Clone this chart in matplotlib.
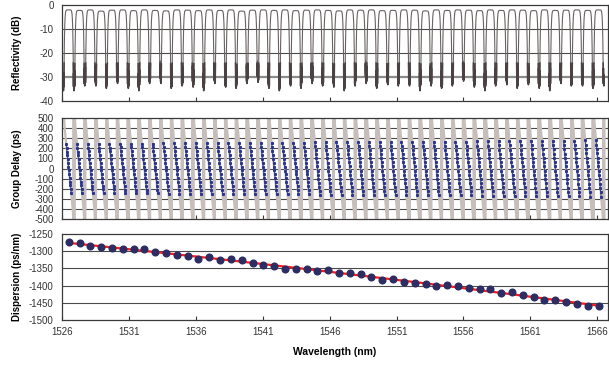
import matplotlib

matplotlib.use("Agg")
import matplotlib.pyplot as plt
import numpy as np

plt.rcParams["font.family"] = ["Liberation Sans", "DejaVu Sans"]
plt.rcParams["axes.unicode_minus"] = False

# channel grid (100 GHz spacing)
CH_START = 1526.5
CH_STEP = 0.808
N_CH = 50
wavelength = np.round(CH_START + CH_STEP * np.arange(N_CH), 3)

# measured dispersion per channel (ps/nm)
dispersion = [
    -1272, -1276, -1284, -1289, -1290, -1294, -1295, -1294, -1302, -1306,
    -1310, -1315, -1322, -1318, -1327, -1322, -1327, -1335, -1340, -1343,
    -1351, -1351, -1351, -1359, -1356, -1364, -1362, -1367, -1376, -1384,
    -1381, -1389, -1392, -1396, -1401, -1397, -1401, -1406, -1411, -1411,
    -1422, -1419, -1427, -1432, -1441, -1441, -1447, -1453, -1460, -1460,
]

# reflectivity: peak level and notch depth per channel (dB)
refl_top = [
    -2.0, -2.2, -2.0, -2.5, -2.1, -2.0, -2.3, -2.0, -2.2, -2.4,
    -2.0, -2.1, -2.3, -2.0, -2.2, -2.0, -2.5, -2.1, -2.0, -2.2,
    -2.0, -2.3, -2.1, -2.0, -2.2, -2.4, -2.0, -2.1, -2.0, -2.3,
    -2.2, -2.0, -2.1, -2.4, -2.0, -2.2, -2.0, -2.1, -2.3, -2.0,
    -2.2, -2.0, -2.1, -2.3, -2.0, -2.2, -2.1, -2.0, -2.2, -2.0,
]
refl_notch = [
    -36, -34, -33, -35, -32, -34, -36, -33, -31, -35,
    -34, -33, -36, -32, -34, -35, -33, -31, -34, -36,
    -33, -35, -32, -34, -33, -36, -34, -31, -35, -33,
    -34, -32, -36, -33, -35, -34, -31, -33, -36, -34,
    -32, -35, -33, -34, -36, -32, -34, -33, -35, -34,
]
# fixed texture of the noisy notch bottoms (dB above the notch depth)
notch_texture = [0, 6, 1, 8, 2, 5, 0, 4, 1]

xticks = [1526, 1531, 1536, 1541, 1546, 1551, 1556, 1561, 1566]
refl_ticks = [0, -10, -20, -30, -40]
gd_ticks = [500, 400, 300, 200, 100, 0, -100, -200, -300, -400, -500]
disp_ticks = [-1250, -1300, -1350, -1400, -1450, -1500]

GRID_C = "#4a4a4a"
SPINE_C = "#3a3a3a"


def reflectivity_trace():
    xs, ys = [], []
    half = CH_STEP / 2
    w = 0.28
    for i, c in enumerate(wavelength):
        x = np.linspace(-half, half, 400)
        band = refl_top[i] - 4.343 * (np.abs(x) / w) ** 8
        tx = np.linspace(0, 1, len(notch_texture))
        left = refl_notch[i - 1] if i > 0 else refl_notch[i]
        depth = np.where(x < 0, 0.5 * (left + refl_notch[i]), refl_notch[i])
        frac = (np.abs(x) - 0.345) / (half - 0.345)
        tex = np.interp(np.clip(frac, 0, 1), tx, notch_texture)
        floor = depth + tex
        xs.append(c + x)
        ys.append(np.maximum(band, floor))
    return np.concatenate(xs), np.concatenate(ys)


def group_delay_traces():
    gx, gy, blue = [], [], []
    for i, c in enumerate(wavelength):
        d = dispersion[i]
        # in-band delay from the channel dispersion
        xb = np.linspace(-0.19, 0.19, 14)
        blue.append((c + xb, d * xb))
        xg = [-0.37, -0.30, -0.19, 0.19, 0.30, 0.37]
        yg = [560, 0.30 * -d + 20, -0.19 * d, 0.19 * d, 0.30 * d - 20, -560]
        # out of band the delay swings past the scale
        g = c + CH_STEP / 2
        xz = [g - 0.03, g - 0.015, g, g + 0.015, g + 0.03]
        yz = [560, -560, 560, -560, 560]
        gx.extend([c + v for v in xg] + xz)
        gy.extend(yg + yz)
    return np.array(gx), np.array(gy), blue


fig = plt.figure(figsize=(6.09, 3.66), dpi=100)
left, width = 0.1018, 0.8966
ax1 = fig.add_axes([left, 0.724, width, 0.262])
ax2 = fig.add_axes([left, 0.4016, width, 0.276])
ax3 = fig.add_axes([left, 0.1257, width, 0.235])

for ax in (ax1, ax2, ax3):
    ax.set_xlim(1526, 1566.8)
    ax.set_xticks(xticks)
    ax.tick_params(axis="x", direction="in", length=3, width=0.8, color=SPINE_C,
                   labelsize=7, pad=5, top=False, labelcolor="#333333")
    ax.tick_params(axis="y", length=0, labelsize=7, pad=6, labelcolor="#333333")
    for s in ax.spines.values():
        s.set_color(SPINE_C)
        s.set_linewidth(0.9)
    ax.set_axisbelow(True)

# Reflectivity
rx, ry = reflectivity_trace()
ax1.plot(rx, ry, color="#6a6262", linewidth=0.8)
ax1.plot(rx, np.where(ry < -24, ry, np.nan), color="#4a4242", linewidth=1.1)
ax1.set_ylim(-40, 0)
ax1.set_yticks(refl_ticks)
for v in (-10, -20):
    ax1.axhline(v, color=GRID_C, linewidth=0.8, zorder=0)
ax1.axhline(-30, color="#8a8a8a", linewidth=1.6, zorder=0)
ax1.tick_params(axis="x", labelbottom=False)
ax1.set_ylabel("Reflectivity (dB)", fontsize=7, fontweight="bold")

# Group delay
gx, gy, blue = group_delay_traces()
for v in gd_ticks[1:-1]:
    ax2.axhline(v, color=GRID_C, linewidth=0.8, zorder=0)
ax2.plot(gx, gy, color="#c6bebb", linewidth=1.6, zorder=2)
for bx, by in blue:
    ax2.plot(bx, by, color="#2a3590", linewidth=0.6, marker="s", markersize=1.2, zorder=3)
ax2.set_ylim(-500, 500)
ax2.set_yticks(gd_ticks)
ax2.tick_params(axis="x", labelbottom=False)
ax2.set_ylabel("Group Delay (ps)", fontsize=7, fontweight="bold")

# Dispersion
fit = np.polyval(np.polyfit(wavelength, dispersion, 2), wavelength)
for v in disp_ticks[1:-1]:
    ax3.axhline(v, color=GRID_C, linewidth=0.8, zorder=0)
ax3.plot(wavelength, fit, color="#ff1a1a", linewidth=1.6, zorder=2)
ax3.plot(wavelength, dispersion, linestyle="none", marker="o", markersize=4.8,
         color="#2b2d63", zorder=3)
ax3.set_ylim(-1500, -1250)
ax3.set_yticks(disp_ticks)
ax3.set_ylabel("Dispersion (ps/nm)", fontsize=7, fontweight="bold")
ax3.set_xlabel("Wavelength (nm)", fontsize=7.5, fontweight="bold", labelpad=7)

for ax in (ax1, ax2, ax3):
    ax.yaxis.set_label_coords(-0.073, 0.5)

plt.savefig("out.png", dpi=100)
